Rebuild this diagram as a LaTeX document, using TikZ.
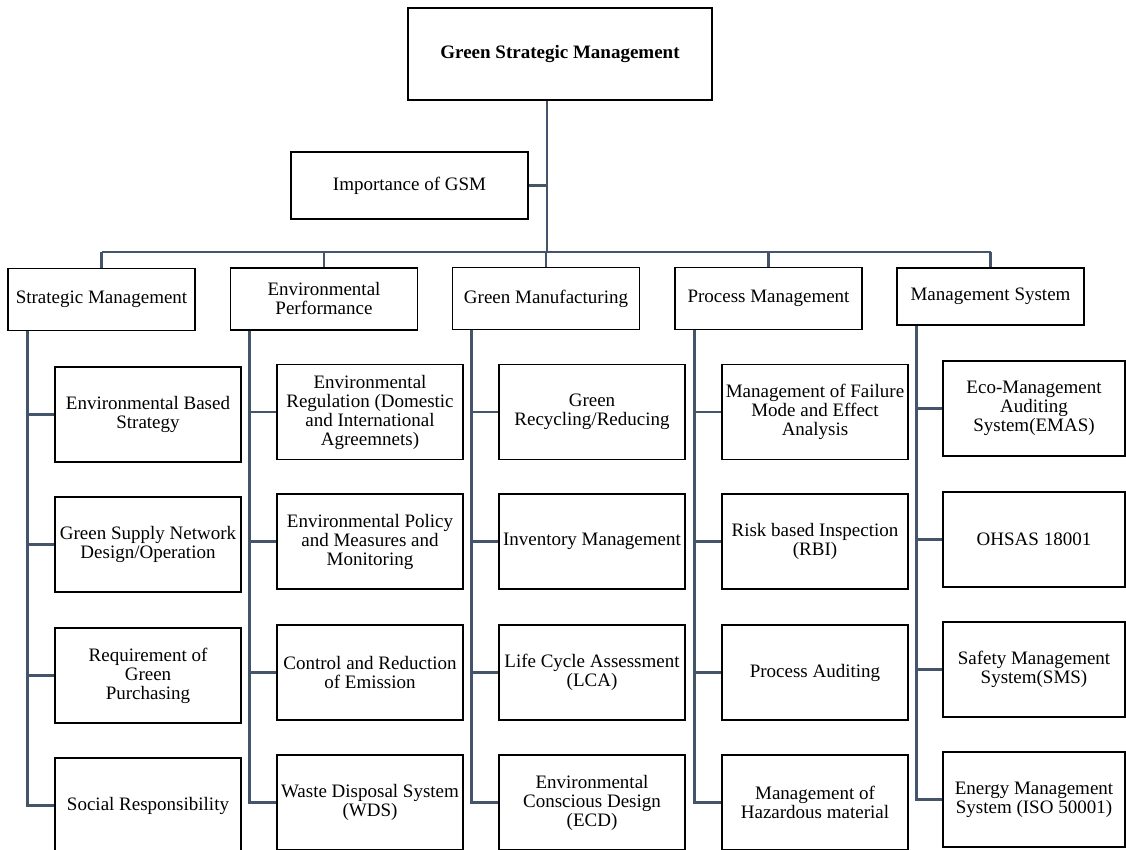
\documentclass[tikz,border=0pt]{standalone}
\usepackage{fontspec}
\setmainfont{Liberation Serif}
\usetikzlibrary{calc}
\definecolor{linkgray}{RGB}{68,84,106}
\tikzset{
	box/.style={draw=black, line width=1.6pt, align=center, inner sep=2pt, font=\fontsize{19}{19}\selectfont},
	headbox/.style={box, minimum width=304pt, minimum height=92pt, font=\fontsize{19}{19}\bfseries\selectfont},
	impbox/.style={box, minimum width=237pt, minimum height=67pt},
	catbox/.style={box, minimum width=187pt, minimum height=62pt},
	itembox/.style={box, minimum width=186pt, minimum height=95pt},
	sysbox/.style={box, minimum width=182pt, minimum height=95pt},
	link/.style={draw=linkgray, line width=2.6pt}
}

\begin{document}
\begin{tikzpicture}[x=1pt, y=-1pt]
		%%%%% START %%%%%
		\useasboundingbox (0, 0) rectangle (1126, 850);
		\clip (0, 0) rectangle (1126, 850);
		
		% top of the tree
		\node[headbox] (gsm) at (560, 54) {Green Strategic Management};
		\node[impbox] (imp) at (409.5, 185.5) {Importance of GSM};
		\coordinate (bar) at (547, 252);
		
		% main categories
		\node[catbox] (sm) at (101.5, 299.5) {Strategic Management};
		\node[catbox] (ep) at (324, 299) {Environmental\\Performance};
		\node[catbox] (gm) at (546, 298.5) {Green Manufacturing};
		\node[catbox] (pm) at (768.5, 298.5) {Process Management};
		\node[catbox, minimum height=57pt] (ms) at (990.5, 296.5) {Management System};
		
		% strategic management
		\node[itembox] (sm1) at (148, 414.5) {Environmental Based\\Strategy};
		\node[itembox] (sm2) at (148, 544.5) {Green Supply Network\\Design/Operation};
		\node[itembox] (sm3) at (148, 675.5) {Requirement of\\Green\\Purchasing};
		\node[itembox] (sm4) at (148, 805.5) {Social Responsibility};
		
		% environmental performance
		\node[itembox] (ep1) at (370, 412) {Environmental\\Regulation (Domestic\\and International\\Agreemnets)};
		\node[itembox] (ep2) at (370, 541.5) {Environmental Policy\\and Measures and\\Monitoring};
		\node[itembox] (ep3) at (370, 672.5) {Control and Reduction\\of Emission};
		\node[itembox] (ep4) at (370, 802.5) {Waste Disposal System\\(WDS)};
		
		% green manufacturing
		\node[itembox] (gm1) at (592, 412) {Green\\Recycling/Reducing};
		\node[itembox] (gm2) at (592, 541.5) {Inventory Management};
		\node[itembox] (gm3) at (592, 672.5) {Life Cycle Assessment\\(LCA)};
		\node[itembox] (gm4) at (592, 802.5) {Environmental\\Conscious Design\\(ECD)};
		
		% process management
		\node[itembox] (pm1) at (815, 412) {Management of Failure\\Mode and Effect\\Analysis};
		\node[itembox] (pm2) at (815, 541.5) {Risk based Inspection\\(RBI)};
		\node[itembox] (pm3) at (815, 672.5) {Process Auditing};
		\node[itembox] (pm4) at (815, 802.5) {Management of\\Hazardous material};
		
		% management system
		\node[sysbox] (ms1) at (1034, 408.5) {Eco-Management\\Auditing\\System(EMAS)};
		\node[sysbox] (ms2) at (1034, 539.5) {OHSAS 18001};
		\node[sysbox] (ms3) at (1034, 669.5) {Safety Management\\System(SMS)};
		\node[sysbox] (ms4) at (1034, 799.5) {Energy Management\\System (ISO 50001)};
		
		% trunk and bar
		\draw[link] (gsm.south -| bar) -- (bar);
		\draw[link] (imp.east) -- (imp.east -| bar);
		\draw[link] (sm.north |- bar) -- (ms.north |- bar);
		\draw[link] (sm.north) -- (sm.north |- bar);
		\draw[link] (ep.north) -- (ep.north |- bar);
		\draw[link] (gm.north) -- (gm.north |- bar);
		\draw[link] (pm.north) -- (pm.north |- bar);
		\draw[link] (ms.north) -- (ms.north |- bar);
		
		% spines
		\coordinate (sm-sp) at ([xshift=20pt]sm.south west);
		\coordinate (ep-sp) at ([xshift=20pt]ep.south west);
		\coordinate (gm-sp) at ([xshift=20pt]gm.south west);
		\coordinate (pm-sp) at ([xshift=20pt]pm.south west);
		\coordinate (ms-sp) at ([xshift=20pt]ms.south west);
		
		\draw[link] (sm-sp) |- (sm4.west);
		\draw[link] (sm1.west) -- (sm1.west -| sm-sp);
		\draw[link] (sm2.west) -- (sm2.west -| sm-sp);
		\draw[link] (sm3.west) -- (sm3.west -| sm-sp);
		
		\draw[link] (ep-sp) |- (ep4.west);
		\draw[link] (ep1.west) -- (ep1.west -| ep-sp);
		\draw[link] (ep2.west) -- (ep2.west -| ep-sp);
		\draw[link] (ep3.west) -- (ep3.west -| ep-sp);
		
		\draw[link] (gm-sp) |- (gm4.west);
		\draw[link] (gm1.west) -- (gm1.west -| gm-sp);
		\draw[link] (gm2.west) -- (gm2.west -| gm-sp);
		\draw[link] (gm3.west) -- (gm3.west -| gm-sp);
		
		\draw[link] (pm-sp) |- (pm4.west);
		\draw[link] (pm1.west) -- (pm1.west -| pm-sp);
		\draw[link] (pm2.west) -- (pm2.west -| pm-sp);
		\draw[link] (pm3.west) -- (pm3.west -| pm-sp);
		
		\draw[link] (ms-sp) |- (ms4.west);
		\draw[link] (ms1.west) -- (ms1.west -| ms-sp);
		\draw[link] (ms2.west) -- (ms2.west -| ms-sp);
		\draw[link] (ms3.west) -- (ms3.west -| ms-sp);
		
		%%%%% END %%%%%
	\end{tikzpicture}
\end{document}
